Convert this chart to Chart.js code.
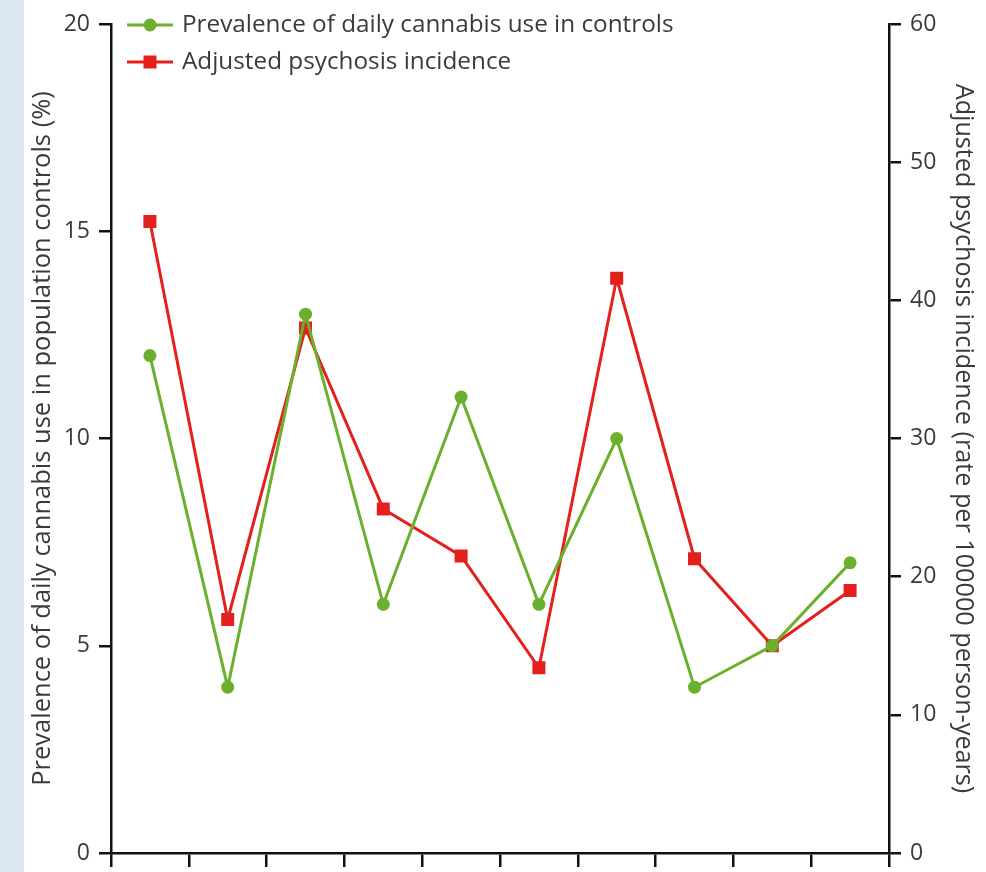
<!DOCTYPE html>
<html>
<head>
<meta charset="utf-8">
<script src="https://cdn.jsdelivr.net/npm/chart.js@4"></script>
<style>
  html, body { margin: 0; padding: 0; }
  body { width: 986px; height: 872px; background: #dce6f2; position: relative; overflow: hidden; }
  #wrap { position: absolute; left: 24px; top: 0; width: 962px; height: 872px; background: #fff; }
</style>
</head>
<body>
<div id="wrap"><canvas id="chart"></canvas></div>
<script>
// Study sites (x axis has no labels in the original)
const sites = ['1', '2', '3', '4', '5', '6', '7', '8', '9', '10'];

// Prevalence of daily cannabis use in population controls (%) - left axis
const cannabisUse = [12, 4, 13, 6, 11, 6, 10, 4, 5, 7];

// Adjusted psychosis incidence (per 100000 person-years) - right axis
const psychosisIncidence = [45.7, 16.9, 38.0, 24.9, 21.5, 13.4, 41.6, 21.3, 15.0, 19.0];

const leftTicks = [0, 5, 10, 15, 20];
const rightTicks = [0, 10, 20, 30, 40, 50, 60];

const textColor = '#3a3a3a';
const fontFamily = "'Open Sans', sans-serif";

// Draw the legend inside the plot, line with marker through it
const insideLegend = {
    id: 'insideLegend',
    afterDraw(chart) {
        const ctx = chart.ctx;
        const area = chart.chartArea;
        ctx.save();
        chart.data.datasets.forEach((ds, i) => {
            const y = area.top + 1 + i * 37;
            const x0 = area.left + 16;
            ctx.strokeStyle = ds.borderColor;
            ctx.lineWidth = 3;
            ctx.beginPath();
            ctx.moveTo(x0, y);
            ctx.lineTo(x0 + 46, y);
            ctx.stroke();
            ctx.fillStyle = ds.backgroundColor;
            if (ds.pointStyle === 'rect') {
                ctx.fillRect(x0 + 23 - 6.5, y - 6.5, 13, 13);
            } else {
                ctx.beginPath();
                ctx.arc(x0 + 23, y, 6.5, 0, Math.PI * 2);
                ctx.fill();
            }
            ctx.fillStyle = textColor;
            ctx.font = "24.3px " + fontFamily;
            ctx.textBaseline = 'middle';
            ctx.fillText(ds.label, x0 + 55, y);
        });
        ctx.restore();
    }
};

const ctx = document.getElementById('chart').getContext('2d');
const chart = new Chart(ctx, {
    type: 'line',
    data: {
        labels: sites,
        datasets: [
            {
                label: 'Prevalence of daily cannabis use in controls',
                data: cannabisUse,
                borderColor: '#6bb02c',
                backgroundColor: '#6bb02c',
                borderWidth: 3,
                pointStyle: 'circle',
                pointRadius: 6.5,
                pointBorderWidth: 0,
                tension: 0,
                yAxisID: 'y'
            },
            {
                label: 'Adjusted psychosis incidence',
                data: psychosisIncidence,
                borderColor: '#e3201b',
                backgroundColor: '#e3201b',
                borderWidth: 3,
                pointStyle: 'rect',
                pointRadius: 9.2,
                pointBorderWidth: 0,
                tension: 0,
                yAxisID: 'y2'
            }
        ]
    },
    options: {
        responsive: true,
        maintainAspectRatio: false,
        animation: false,
        layout: { padding: { top: 24, left: 0, right: 0, bottom: 0 } },
        plugins: {
            legend: { display: false },
            tooltip: { enabled: false }
        },
        scales: {
            x: {
                type: 'category',
                offset: true,
                ticks: { display: false },
                grid: {
                    offset: true,
                    drawOnChartArea: false,
                    drawTicks: true,
                    tickLength: 14,
                    color: '#111',
                    lineWidth: 2.5
                },
                border: { color: '#111', width: 2.5 },
                afterFit: s => { s.height = 19; }
            },
            y: {
                position: 'left',
                min: 0,
                max: 20,
                afterBuildTicks: s => { s.ticks = leftTicks.map(v => ({ value: v })); },
                ticks: {
                    color: textColor,
                    padding: 9,
                    font: { family: fontFamily, size: 23, lineHeight: 0.5 }
                },
                grid: {
                    drawOnChartArea: false,
                    tickLength: 12,
                    color: '#111',
                    lineWidth: 2.5
                },
                border: { color: '#111', width: 2.5 },
                title: {
                    display: true,
                    text: 'Prevalence of daily cannabis use in population controls (%)',
                    color: textColor,
                    font: { family: fontFamily, size: 25.5 },
                    padding: { top: 3, bottom: 0 }
                },
                afterFit: s => { s.width = 87; }
            },
            y2: {
                position: 'right',
                min: 0,
                max: 60,
                afterBuildTicks: s => { s.ticks = rightTicks.map(v => ({ value: v })); },
                ticks: {
                    color: textColor,
                    padding: 9,
                    font: { family: fontFamily, size: 23, lineHeight: 0.5 }
                },
                grid: {
                    drawOnChartArea: false,
                    tickLength: 12,
                    color: '#111',
                    lineWidth: 2.5
                },
                border: { color: '#111', width: 2.5 },
                title: {
                    display: true,
                    text: 'Adjusted psychosis incidence (rate per 100000 person-years)',
                    color: textColor,
                    font: { family: fontFamily, size: 25.2 },
                    padding: { top: 8, bottom: 0 }
                },
                afterFit: s => { s.width = 97; }
            }
        }
    },
    plugins: [insideLegend]
});
</script>
</body>
</html>
